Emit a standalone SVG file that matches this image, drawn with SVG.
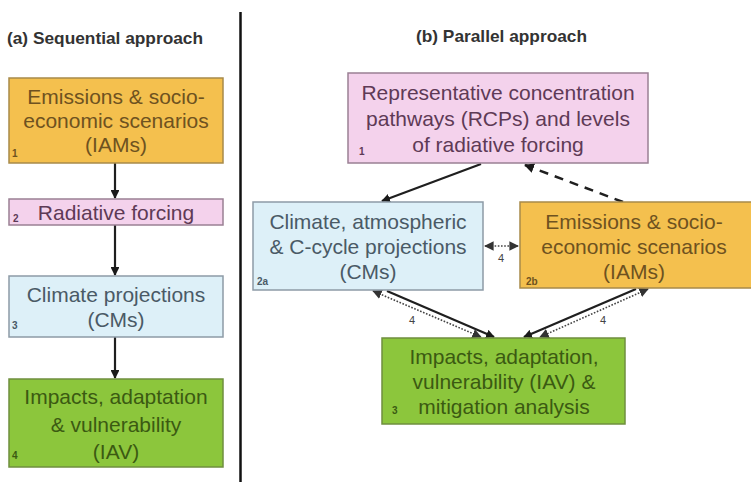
<svg xmlns="http://www.w3.org/2000/svg" width="751" height="482" viewBox="0 0 751 482">
<defs>
<marker id="ah" viewBox="0 0 10 10" refX="9" refY="5" markerWidth="4" markerHeight="4" orient="auto-start-reverse" markerUnits="strokeWidth">
<path d="M0,0 L10,5 L0,10 z" fill="#1a1a1a"/>
</marker>
<marker id="ahs" viewBox="0 0 10 10" refX="9" refY="5" markerWidth="6" markerHeight="6" orient="auto-start-reverse" markerUnits="strokeWidth">
<path d="M0,0 L10,5 L0,10 z" fill="#333"/>
</marker>
<style>
.t{font-family:"Liberation Sans",Arial,sans-serif;font-size:21px;text-anchor:middle}
.ttl{font-family:"Liberation Sans",Arial,sans-serif;font-size:17px;font-weight:bold;fill:#333}
.n{font-family:"Liberation Sans",Arial,sans-serif;font-size:10px;font-weight:bold}
.or{fill:#f4c04e;stroke:#a88a4a;stroke-width:1.5}
.pk{fill:#f4d2ec;stroke:#9a8094;stroke-width:1.5}
.bl{fill:#ddf0f8;stroke:#8d9ba6;stroke-width:1.5}
.gr{fill:#8cc63c;stroke:#6f8f3e;stroke-width:1.5}
.tor{fill:#6e5220}
.tpk{fill:#5e3a56}
.tbl{fill:#4a5a66}
.tgr{fill:#3b5a12}
.sol{stroke:#1f1f1f;stroke-width:2.2;fill:none;marker-end:url(#ah)}
.dot{stroke:#444;stroke-width:1.6;stroke-dasharray:1.6 1.6;fill:none;marker-start:url(#ahs);marker-end:url(#ahs)}
.dsh{stroke:#1f1f1f;stroke-width:2.5;stroke-dasharray:9 7;fill:none;marker-end:url(#ah)}
.lbl{font-family:"Liberation Sans",Arial,sans-serif;font-size:11px;fill:#444;text-anchor:middle}
</style>
</defs>
<rect width="751" height="482" fill="#ffffff"/>
<text class="ttl" x="7" y="44" textLength="196" lengthAdjust="spacingAndGlyphs">(a) Sequential approach</text>
<text class="ttl" x="416" y="42" textLength="171" lengthAdjust="spacingAndGlyphs">(b) Parallel approach</text>
<line x1="240.5" y1="12" x2="240.5" y2="482" stroke="#111" stroke-width="2.5"/>

<g id="connectors">
<line class="sol" x1="115" y1="163" x2="115" y2="198"/>
<line class="sol" x1="115" y1="225" x2="115" y2="275"/>
<line class="sol" x1="115" y1="337" x2="115" y2="378"/>
<line class="sol" x1="481" y1="164" x2="382" y2="201"/>
<line class="dsh" x1="623" y1="202" x2="525" y2="165"/>
<line class="dot" x1="485" y1="246" x2="518" y2="246"/>
<line class="sol" x1="387" y1="291" x2="494" y2="337"/>
<line class="dot" x1="373" y1="291" x2="481" y2="337"/>
<line class="sol" x1="636" y1="289" x2="524" y2="337"/>
<line class="dot" x1="648" y1="289" x2="540" y2="337"/>
<text class="lbl" x="501" y="262">4</text>
<text class="lbl" x="412" y="324">4</text>
<text class="lbl" x="603" y="324">4</text>
</g>

<g id="a1">
<rect class="or" x="9" y="78" width="214" height="85"/>
<text class="t tor" x="116" y="104">Emissions &amp; socio-</text>
<text class="t tor" x="116" y="128">economic scenarios</text>
<text class="t tor" x="116" y="152">(IAMs)</text>
<text class="n tor" x="12" y="157">1</text>
</g>
<g id="a2">
<rect class="pk" x="9" y="199" width="214" height="26"/>
<text class="t tpk" x="116" y="220">Radiative forcing</text>
<text class="n tpk" x="13" y="222">2</text>
</g>
<g id="a3">
<rect class="bl" x="9" y="276" width="214" height="61"/>
<text class="t tbl" x="116" y="302">Climate projections</text>
<text class="t tbl" x="116" y="327">(CMs)</text>
<text class="n tbl" x="12" y="329">3</text>
</g>
<g id="a4">
<rect class="gr" x="9" y="379" width="214" height="88"/>
<text class="t tgr" x="116" y="404">Impacts, adaptation</text>
<text class="t tgr" x="116" y="432">&amp; vulnerability</text>
<text class="t tgr" x="116" y="459">(IAV)</text>
<text class="n tgr" x="12" y="459">4</text>
</g>

<g id="b1">
<rect class="pk" x="348" y="73" width="300" height="90"/>
<text class="t tpk" x="498" y="100">Representative concentration</text>
<text class="t tpk" x="498" y="126">pathways (RCPs) and levels</text>
<text class="t tpk" x="498" y="152">of radiative forcing</text>
<text class="n tpk" x="359" y="155">1</text>
</g>
<g id="b2a">
<rect class="bl" x="253" y="202" width="230" height="88"/>
<text class="t tbl" x="368" y="229">Climate, atmospheric</text>
<text class="t tbl" x="368" y="254">&amp; C-cycle projections</text>
<text class="t tbl" x="368" y="279">(CMs)</text>
<text class="n tbl" x="257" y="285">2a</text>
</g>
<g id="b2b">
<rect class="or" x="520" y="202" width="240" height="86"/>
<text class="t tor" x="634" y="229">Emissions &amp; socio-</text>
<text class="t tor" x="634" y="254">economic scenarios</text>
<text class="t tor" x="634" y="279">(IAMs)</text>
<text class="n tor" x="526" y="285">2b</text>
</g>
<g id="b3">
<rect class="gr" x="382" y="338" width="243" height="86"/>
<text class="t tgr" x="504" y="364">Impacts, adaptation,</text>
<text class="t tgr" x="504" y="389">vulnerability (IAV) &amp;</text>
<text class="t tgr" x="504" y="414">mitigation analysis</text>
<text class="n tgr" x="392" y="414">3</text>
</g>
</svg>
